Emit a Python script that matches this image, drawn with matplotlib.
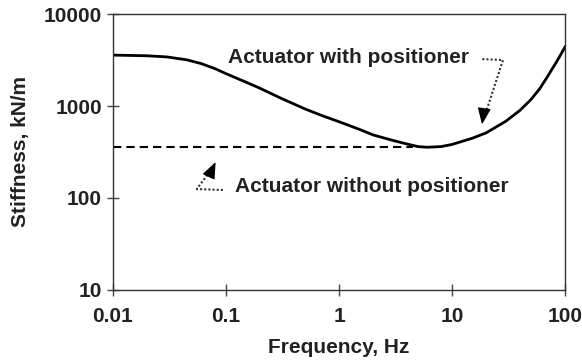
import matplotlib
matplotlib.use('Agg')
import matplotlib.pyplot as plt

plt.rcParams['font.family'] = ['Liberation Sans', 'DejaVu Sans']
plt.rcParams['font.weight'] = 'bold'

# stiffness of actuator with positioner vs frequency
freq = [0.01, 0.02, 0.03, 0.045, 0.06, 0.08, 0.1, 0.15, 0.2, 0.3, 0.5, 0.7,
        1, 1.5, 2, 3, 4, 5, 6, 8, 10, 15, 20, 30, 40, 50, 60, 70, 85, 100]
stiff_pos = [3580, 3520, 3420, 3180, 2900, 2550, 2250, 1820, 1560, 1230, 930,
             790, 675, 560, 485, 422, 386, 362, 356, 362, 382, 445, 510, 685,
             900, 1180, 1560, 2100, 3100, 4400]

# actuator alone (no positioner), constant
freq_nopos = [0.01, 4.5]
stiff_nopos = [355, 355]

xticks = [0.01, 0.1, 1, 10, 100]
xlabels = ['0.01', '0.1', '1', '10', '100']
yticks = [10, 100, 1000, 10000]
ylabels = ['10', '100', '1000', '10000']

fig = plt.figure(figsize=(5.82, 3.61), dpi=100)
ax = fig.add_axes([0.194, 0.197, 0.777, 0.764])

ax.plot(freq, stiff_pos, color='black', lw=2, solid_joinstyle='round')
line, = ax.plot(freq_nopos, stiff_nopos, color='black', lw=1.5)
line.set_dashes((4, 2.4))

ax.set_xscale('log')
ax.set_yscale('log')
ax.set_xlim(0.01, 100)
ax.set_ylim(10, 10000)
ax.minorticks_off()
ax.set_xticks(xticks)
ax.set_xticklabels(xlabels)
ax.set_yticks(yticks)
ax.set_yticklabels(ylabels)
ax.tick_params(direction='inout', length=8, width=1, color='#444444',
               labelsize=15, labelcolor='#222222')
ax.tick_params(axis='x', pad=8)
ax.tick_params(axis='y', pad=4)
for s in ax.spines.values():
    s.set_color('#333333')
    s.set_linewidth(1)

ax.set_xlabel('Frequency, Hz', fontsize=15, fontweight='bold', color='#222222', labelpad=9)
ax.set_ylabel('Stiffness, kN/m', fontsize=15, fontweight='bold', color='#222222', labelpad=10)

# labels with dotted leader arrows
ax.text(0.104, 3400, 'Actuator with positioner', fontsize=15, fontweight='bold',
        color='#222222', ha='left', va='center')
ax.plot([18.5, 28.2, 18.9], [3240, 3160, 700], color='#333333', lw=1.5, ls=(0, (1, 1)))
ax.annotate('', xy=(18.4, 630), xytext=(18.8, 760),
            arrowprops=dict(arrowstyle='-|>,head_length=1.0,head_width=0.4',
                            color='black', lw=1, shrinkA=0, shrinkB=0))

ax.text(0.120, 132, 'Actuator without positioner', fontsize=15, fontweight='bold',
        color='#222222', ha='left', va='center')
ax.plot([0.094, 0.0553, 0.0765], [122, 125, 215], color='#333333', lw=1.5, ls=(0, (1, 1)))
ax.annotate('', xy=(0.081, 246), xytext=(0.0755, 205),
            arrowprops=dict(arrowstyle='-|>,head_length=1.0,head_width=0.4',
                            color='black', lw=1, shrinkA=0, shrinkB=0))

fig.savefig('out.png', dpi=100)
